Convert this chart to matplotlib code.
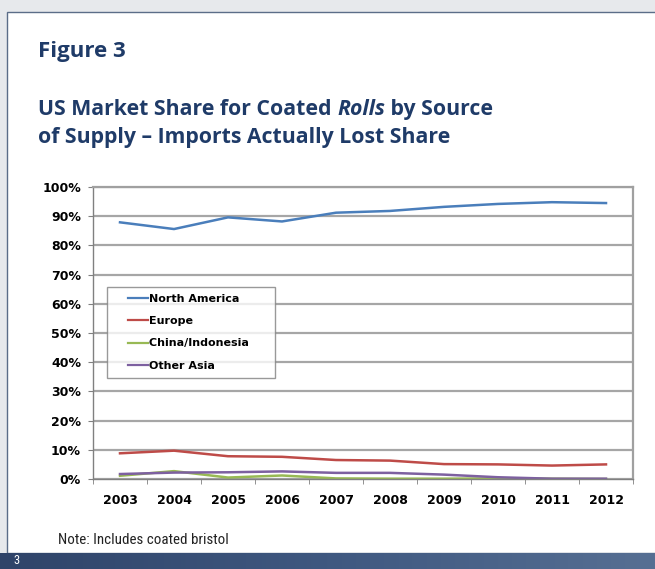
import numpy as np
import matplotlib.pyplot as plt
from matplotlib.patches import Rectangle
from matplotlib.lines import Line2D
from matplotlib.colors import LinearSegmentedColormap
from matplotlib.legend_handler import HandlerBase

years = ['2003', '2004', '2005', '2006', '2007', '2008', '2009', '2010', '2011', '2012']
north_america = [87.9, 85.6, 89.6, 88.2, 91.2, 91.8, 93.2, 94.2, 94.8, 94.5]
europe = [8.8, 9.7, 7.8, 7.6, 6.5, 6.3, 5.1, 5.0, 4.6, 5.0]
china_indonesia = [1.1, 2.7, 0.5, 1.2, 0.2, 0.1, 0.1, 0.2, 0.1, 0.0]
other_asia = [1.7, 2.2, 2.3, 2.6, 2.1, 2.1, 1.5, 0.6, 0.1, 0.1]
y_ticks = [0, 10, 20, 30, 40, 50, 60, 70, 80, 90, 100]


class ShortLine(HandlerBase):
    # legend line drawn only on the right part of the handle box
    def create_artists(self, legend, orig_handle, xdescent, ydescent, width, height,
                       fontsize, trans):
        y = (height - ydescent) / 2
        ln = Line2D([-xdescent + width * 0.41, -xdescent + width], [y, y],
                    color=orig_handle.get_color(), lw=1.6)
        ln.set_transform(trans)
        return [ln]


W, H = 655, 569
navy = '#1f3b68'
plt.rcParams['font.family'] = ['DejaVu Sans']
fig = plt.figure(figsize=(W / 100, H / 100), dpi=100)
fig.patch.set_facecolor('#e7e9ec')

# white page panel with a thin border
fig.patches.append(Rectangle((7 / W, 16 / H), 1.0, (557 - 16) / H, transform=fig.transFigure,
                             facecolor='white', edgecolor='#5b6d88', linewidth=1.0, zorder=-5))

# dark footer band
band = fig.add_axes([0, 0, 1, 16 / H])
grad = np.linspace(0, 1, 256).reshape(1, -1)
cmap = LinearSegmentedColormap.from_list('band', ['#2f4469', '#3f5880', '#566f93'])
band.imshow(grad, aspect='auto', cmap=cmap, extent=[0, 1, 0, 1])
band.set_axis_off()
fig.text(13 / W, 8 / H, '3', color='white', fontsize=9, va='center', ha='left',
         family=['Roboto Condensed', 'DejaVu Sans'])

head = ['Open Sans', 'Roboto', 'DejaVu Sans']
fig.text(38 / W, 1 - 57 / H, 'Figure 3', fontsize=16, fontweight='bold', color=navy,
         family=head, va='baseline')

# title line 1 in three pieces so "Rolls" can be italic
renderer = fig.canvas.get_renderer()
xpos = 38 / W
for piece, style in [('US Market Share for Coated ', 'normal'), ('Rolls', 'italic'),
                     (' by Source', 'normal')]:
    t = fig.text(xpos, 1 - 115 / H, piece, fontsize=15.3, fontweight='bold', style=style,
                 color=navy, family=head, va='baseline')
    bb = t.get_window_extent(renderer)
    xpos += bb.width / W
fig.text(38 / W, 1 - 143 / H, 'of Supply \u2013 Imports Actually Lost Share',
         fontsize=15.3, fontweight='bold', color=navy, family=head, va='baseline')
fig.text(58 / W, 1 - 544 / H, 'Note: Includes coated bristol', fontsize=10.8, color='#222222',
         family=['Roboto Condensed', 'DejaVu Sans'], va='baseline')

ax = fig.add_axes([93 / W, (H - 479) / H, 540 / W, 292 / H])
x = np.arange(len(years))
ax.plot(x, north_america, color='#4a7ebb', lw=1.8, label='North America')
ax.plot(x, europe, color='#be4b48', lw=1.8, label='Europe')
ax.plot(x, china_indonesia, color='#98b954', lw=1.8, label='China/Indonesia')
ax.plot(x, other_asia, color='#7d60a0', lw=1.8, label='Other Asia')

ax.set_xlim(-0.5, len(years) - 0.5)
ax.set_ylim(0, 100)
ax.set_yticks(y_ticks)
ax.set_yticklabels([f'{v}%' for v in y_ticks], fontsize=9, fontweight='bold')
ax.set_xticks(x)
ax.set_xticklabels(years, fontsize=9, fontweight='bold')
ax.set_xticks(np.arange(-0.5, len(years)), minor=True)
ax.tick_params(axis='x', which='major', length=0, pad=10.5)
ax.tick_params(axis='x', which='minor', length=3.6, color='#808080')
ax.tick_params(axis='y', length=3.6, color='#808080', pad=5)
ax.grid(axis='y', color='#a6a6a6', lw=1.6)
ax.set_axisbelow(True)
for s in ax.spines.values():
    s.set_color('#a0a0a0')
    s.set_linewidth(1.6)
ax.spines['left'].set_color('#808080')
ax.spines['left'].set_linewidth(1.0)
ax.spines['bottom'].set_color('#808080')
ax.spines['bottom'].set_linewidth(1.0)

handles, labels = ax.get_legend_handles_labels()
labels = [lab + '     ' if lab == 'China/Indonesia' else lab for lab in labels]
leg = ax.legend(handles, labels, loc='upper left', bbox_to_anchor=(0.026, 0.658),
                borderaxespad=0, prop={'weight': 'bold', 'size': 8}, frameon=True,
                fancybox=False, handlelength=3.1, handletextpad=0.1, labelspacing=1.12,
                borderpad=0.6, handler_map={Line2D: ShortLine()})
leg.get_frame().set_edgecolor('#808080')
leg.get_frame().set_linewidth(1.0)

fig.savefig('out.png', dpi=100, facecolor=fig.get_facecolor())
